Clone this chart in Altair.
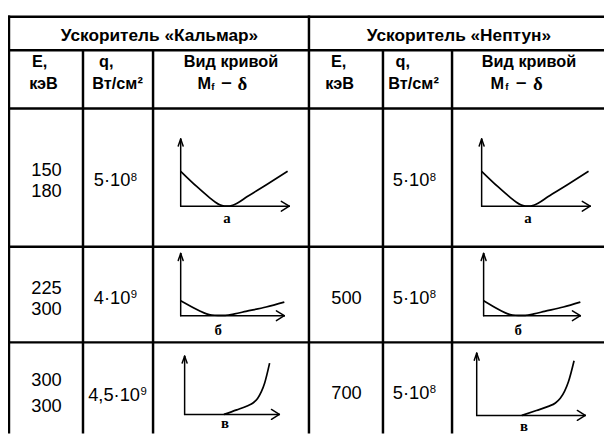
import altair as alt
import pandas as pd

# ---------------- table content ----------------
accelerators = ["Ускоритель «Кальмар»", "Ускоритель «Нептун»"]
head_e = ["E,", "кэВ"]
head_q = ["q,", "Вт/см²"]
head_curve = ["Вид кривой", "M", "f", "–", "δ"]

kalmar_E = [["150", "180"], ["225", "300"], ["300", "300"]]
kalmar_q_base = ["5·10", "4·10", "4,5·10"]
kalmar_q_exp = ["8", "9", "9"]

neptun_E = [[], ["500"], ["700"]]
neptun_q_base = ["5·10", "5·10", "5·10"]
neptun_q_exp = ["8", "8", "8"]

curve_labels = ["а", "б", "в"]

# sketch curves M_f(δ) in arbitrary units (0..10 on each axis)
curve_a_delta = [0, 1.5, 2.6, 3.2, 3.6, 3.9, 4.2, 4.5, 4.8, 5.2, 6.1, 7.9, 9.85]
curve_a_mf = [5.2, 2.9, 1.35, 0.6, 0.22, 0.06, 0.0, 0.02, 0.15, 0.45, 1.4, 3.2, 5.2]
curve_b_delta = [0, 1.0, 1.8, 2.5, 3.0, 3.6, 4.3, 5.2, 6.3, 8.25, 10]
curve_b_mf = [2.4, 1.5, 0.8, 0.3, 0.12, 0.05, 0.07, 0.3, 0.7, 1.4, 2.2]
curve_c_delta = [4.15, 5.5, 6.6, 7.25, 7.7, 8.1, 8.45, 8.97]
curve_c_mf = [0, 0.78, 1.45, 2.0, 2.75, 3.9, 5.4, 8.8]

curves = {"а": (curve_a_delta, curve_a_mf),
          "б": (curve_b_delta, curve_b_mf),
          "в": (curve_c_delta, curve_c_mf)}

# ---------------- layout (pixel frame) ----------------
X0, X1, Y0, Y1 = 8, 612, 8, 435
SANS = "Liberation Sans, Arial, sans-serif"
SERIF = "Liberation Serif, Times New Roman, serif"

xs = alt.Scale(domain=[X0, X1], nice=False, zero=False)
ys = alt.Scale(domain=[Y0, Y1], nice=False, zero=False, reverse=True)


def enc_xy(c):
    return c.encode(x=alt.X("x:Q", scale=xs, axis=None),
                    y=alt.Y("y:Q", scale=ys, axis=None))


def rules(df, width, cap="square"):
    return alt.Chart(df).mark_rule(color="black", strokeWidth=width, strokeCap=cap).encode(
        x=alt.X("x:Q", scale=xs, axis=None), x2="x2:Q",
        y=alt.Y("y:Q", scale=ys, axis=None), y2="y2:Q")


def texts(rows, size, weight="normal", font=SANS, align="center"):
    df = pd.DataFrame(rows, columns=["t", "x", "y"])
    c = alt.Chart(df).mark_text(fontSize=size, fontWeight=weight, font=font, align=align,
                                baseline="alphabetic", color="black")
    return enc_xy(c).encode(text="t:N")


# table grid
h_lines = [14, 48, 107, 247, 344]
v_full = [9, 313]
v_part = [84, 155, 388, 458]
grid = [(9, 612, y, y) for y in h_lines]
grid += [(x, x, 14, 435) for x in v_full]
grid += [(x, x, 48, 435) for x in v_part]
grid_df = pd.DataFrame(grid, columns=["x", "x2", "y", "y2"])

# sketch panels: (label, origin x, origin y, axis length, axis height, label x, label baseline)
panels = [
    ("а", 183, 206, 110, 68, 230, 223),
    ("б", 183, 317, 105, 63, 221, 337),
    ("в", 187, 417, 96, 59, 228, 430.5),
    ("а", 488, 206, 110, 68, 535, 223),
    ("б", 490, 317, 98, 63, 525, 337),
    ("в", 483, 418, 110, 63, 531, 433.5),
]

axes = []
curve_rows = []
for k, (lab, ox, oy, w, h, lx, ly) in enumerate(panels):
    axes += [(ox, ox + w, oy, oy), (ox, ox, oy, oy - h),
             (ox + w, ox + w - 8, oy, oy - 5), (ox + w, ox + w - 8, oy, oy + 5),
             (ox, ox - 2.5, oy - h, oy - h + 7), (ox, ox + 2.5, oy - h, oy - h + 7)]
    d, m = curves[lab]
    for i, (dv, mv) in enumerate(zip(d, m)):
        curve_rows.append({"panel": k, "i": i, "delta": dv, "mf": mv,
                           "x": ox + dv / 10 * w, "y": oy - mv / 10 * h})
axes_df = pd.DataFrame(axes, columns=["x", "x2", "y", "y2"])
curve_df = pd.DataFrame(curve_rows)

curve_layer = enc_xy(alt.Chart(curve_df).mark_line(
    color="black", strokeWidth=1.7, interpolate="monotone")).encode(
    detail="panel:N", order="i:Q")

# texts
head1 = texts([(accelerators[0], 161.5, 39), (accelerators[1], 465, 39)], 17.5, "bold")
head2 = texts([(head_e[0], 40, 65), (head_e[1], 44, 87),
               (head_q[0], 107.5, 65), (head_q[1], 119, 87),
               (head_curve[0], 234, 65),
               (head_e[0], 343, 65), (head_e[1], 344, 87),
               (head_q[0], 408, 65), (head_q[1], 419, 87),
               (head_curve[0], 536, 65)], 16.5, "bold")
m_left = texts([(head_curve[1], 200, 87), (head_curve[1], 497, 87)], 16.5, "bold", align="left")
f_sub = texts([(head_curve[2], 214, 88.5), (head_curve[2], 512, 88.5)], 10, "bold", align="left")
dash = texts([(head_curve[3], 229.5, 86.5), (head_curve[3], 528, 86.5)], 19, "bold")
delta = texts([(head_curve[4], 245.5, 88), (head_curve[4], 545, 88)], 19, "bold", SERIF)

e_rows = []
kal_E_base = [(175, 196.7), (295, 316.7), (388.3, 415)]
for vals, bases in zip(kalmar_E, kal_E_base):
    for v, b in zip(vals, bases):
        e_rows.append((v, 47, b))
nep_E_base = [186, 305, 401.7]
for vals, b in zip(neptun_E, nep_E_base):
    for v in vals:
        e_rows.append((v, 351, b))
data_txt = texts(e_rows, 18.5)

q_base_y = [186, 305, 403.3]
kal_junction = [132, 132, 141.7]
q_rows = [(t, j, b) for t, j, b in zip(kalmar_q_base, kal_junction, q_base_y)]
q_rows += [(t, 435, b) for t, b in zip(neptun_q_base, [186, 305, 401.7])]
q_txt = texts(q_rows, 18.5, align="right")
exp_rows = [(t, j + 0.5, b - 6) for t, j, b in zip(kalmar_q_exp, kal_junction, q_base_y)]
exp_rows += [(t, 435.5, b - 6) for t, b in zip(neptun_q_exp, [186, 305, 401.7])]
exp_txt = texts(exp_rows, 11.5, align="left")

lab_txt = texts([(lab, lx, ly) for (lab, ox, oy, w, h, lx, ly) in panels], 15, "bold", SERIF)

chart = alt.layer(
    rules(grid_df, 2.5),
    rules(axes_df, 1.5, cap="round"),
    curve_layer,
    head1, head2, m_left, f_sub, dash, delta,
    data_txt, q_txt, exp_txt, lab_txt,
).properties(width=604, height=427, padding=0, autosize="none",
             background="white").configure_view(strokeWidth=0)

chart.save("out.html", embed_options={"renderer": "svg", "actions": False})
